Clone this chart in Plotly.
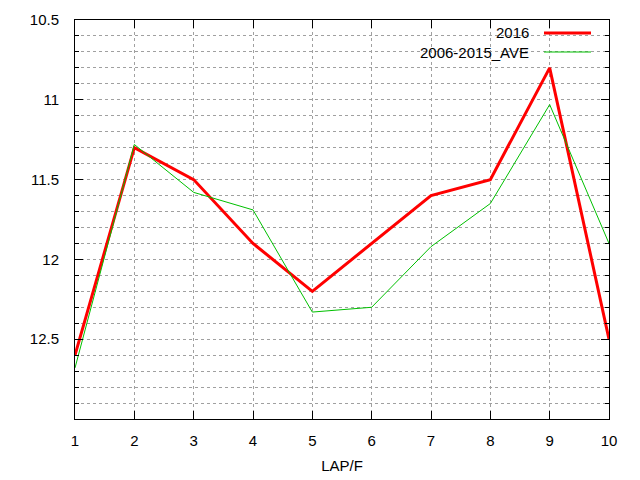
import plotly.graph_objects as go

# Data
laps = [1, 2, 3, 4, 5, 6, 7, 8, 9, 10]
times_2016 = [12.6, 11.3, 11.5, 11.9, 12.2, 11.9, 11.6, 11.5, 10.8, 12.5]
times_ave = [12.68, 11.28, 11.58, 11.69, 12.33, 12.30, 11.92, 11.65, 11.03, 11.9]
y_ticks = [10.5, 11, 11.5, 12, 12.5]
y_labels = ["10.5", "11", "11.5", "12", "12.5"]
names = ["2016", "2006-2015_AVE"]
colors = ["#ff0000", "#00c000"]
widths = [3, 1]

FONT = "Liberation Sans, Arial, sans-serif"

fig = go.Figure()
for ys, name, color, w in zip([times_2016, times_ave], names, colors, widths):
    fig.add_trace(go.Scatter(x=laps, y=ys, mode="lines", name=name,
                             line=dict(color=color, width=w), showlegend=False))

# gnuplot-style key: text on the left, line sample on the right
for i, (name, color, w) in enumerate(zip(names, colors, widths)):
    yk = 1 - (13 + 19 * i) / 399
    fig.add_annotation(x=456 / 534, y=yk, xref="paper", yref="paper", text=name,
                       showarrow=False, xanchor="right", yanchor="middle",
                       font=dict(family=FONT, size=15, color="black"))
    fig.add_shape(type="line", xref="paper", yref="paper",
                  x0=469 / 534, x1=516 / 534, y0=yk, y1=yk,
                  line=dict(color=color, width=w))

grid = dict(gridcolor="#a0a0a0", griddash="3px,3px", gridwidth=1)

# page body has an 8px margin, so the figure is a bit smaller than the window
fig.update_layout(
    width=632, height=472,
    margin=dict(l=67, r=31, t=12, b=61, autoexpand=False),
    paper_bgcolor="white", plot_bgcolor="white",
    font=dict(family=FONT, size=15, color="black"),
    xaxis=dict(
        range=[1, 10], dtick=1, tick0=1, showline=True, linecolor="black",
        linewidth=1, mirror="ticks", ticks="inside", ticklen=8, tickcolor="black",
        showgrid=True, zeroline=False, ticklabelstandoff=8, automargin=False,
        title=dict(text="LAP/F", standoff=12, font=dict(size=15)), **grid,
    ),
    yaxis=dict(
        range=[13, 10.5], tickmode="array", tickvals=y_ticks, ticktext=y_labels,
        showline=True, linecolor="black", automargin=False,
        linewidth=1, mirror="ticks", ticks="inside", ticklen=8, tickcolor="black",
        showgrid=True, zeroline=False, ticklabelstandoff=12,
        minor=dict(dtick=0.1, tick0=10.5, ticks="inside", ticklen=4,
                   tickcolor="black", showgrid=True, **grid),
        **grid,
    ),
)

fig.write_html("out.html")
